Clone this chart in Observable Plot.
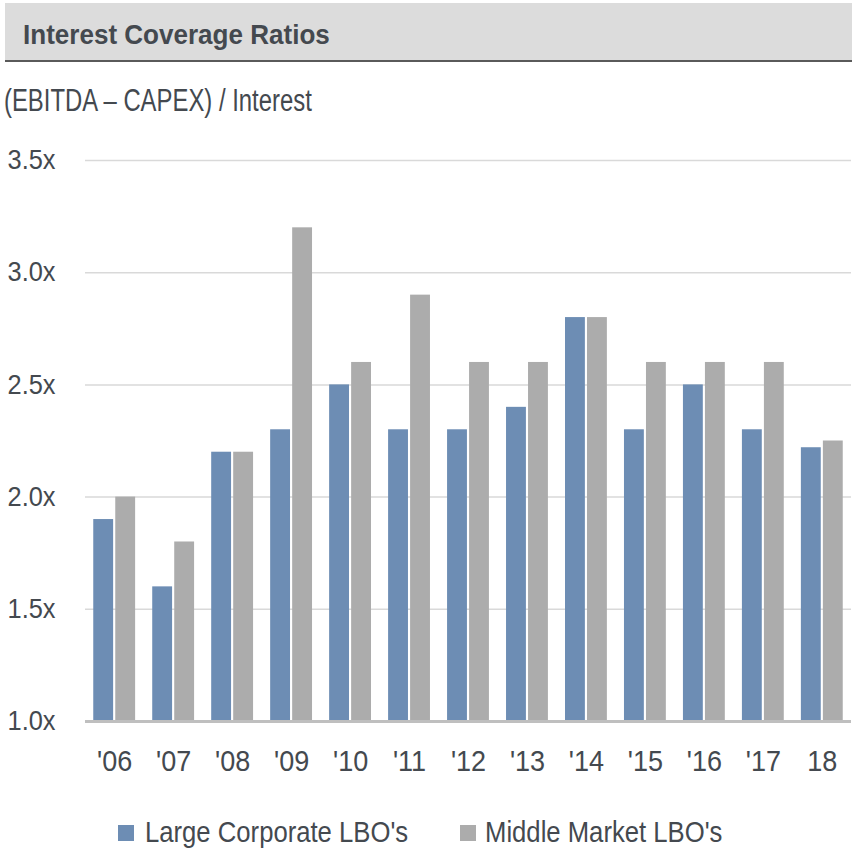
<!DOCTYPE html>
<html><head><meta charset="utf-8">
<script src="https://cdn.jsdelivr.net/npm/d3@7"></script>
<script src="https://cdn.jsdelivr.net/npm/@observablehq/plot@0.6"></script>
<style>
body{margin:0;background:#fff;font-family:"Liberation Sans",Arial,sans-serif;color:#44494f;}
#wrap{position:relative;width:852px;height:849px;overflow:hidden}
#head{position:absolute;left:5px;top:3px;width:847px;height:57px;background:#dcdcdc;border-bottom:2.5px solid #5a5a5a;}
.sq{position:absolute;white-space:nowrap;transform-origin:0 0;}
#title{left:23px;top:21px;font-weight:bold;font-size:28px;line-height:28px;transform:scaleX(0.93)}
#sub{left:4px;top:84.5px;font-size:31px;line-height:31px;transform:scaleX(0.77)}
#chart{position:absolute;left:0;top:140px}
.sw{position:absolute;width:16px;height:16px;top:825px}
.lt{top:817.5px;font-size:29px;line-height:29px;transform:scaleX(0.885)}
</style></head>
<body><div id="wrap">
<div id="head"></div>
<div id="title" class="sq">Interest Coverage Ratios</div>
<div id="sub" class="sq">(EBITDA – CAPEX) / Interest</div>
<div id="chart"></div>
<div id="legend"></div>
</div>
<script>
const years = ["'06","'07","'08","'09","'10","'11","'12","'13","'14","'15","'16","'17","18"];
const large = [1.9,1.6,2.2,2.3,2.5,2.3,2.3,2.4,2.8,2.3,2.5,2.3,2.22];
const middle = [2.0,1.8,2.2,3.2,2.6,2.9,2.6,2.6,2.8,2.6,2.6,2.6,2.25];
const yTicks = [1,1.5,2,2.5,3,3.5];
const seriesNames = ["Large Corporate LBO's","Middle Market LBO's"];
const colors = ["#6d8db4","#acacac"];

const rows = years.map((y,i)=>({year:y, large:large[i], middle:middle[i]}));
const chart = Plot.plot({
  width:852, height:660, marginLeft:85, marginRight:1, marginTop:20, marginBottom:79,
  style:{fontFamily:'"Liberation Sans",Arial,sans-serif', color:"#44494f", background:"transparent", overflow:"visible"},
  x:{domain:years, paddingInner:0.29, paddingOuter:0.14, round:false, label:null},
  y:{domain:[1,3.5], label:null},
  marks:[
    Plot.ruleY(yTicks.slice(1), {stroke:"#d9d9d9", strokeWidth:1.5}),
    Plot.barY(rows,{x:"year", y1:1, y2:"large", fill:colors[0], insetRight:22}),
    Plot.barY(rows,{x:"year", y1:1, y2:"middle", fill:colors[1], insetLeft:22}),
    Plot.ruleY([1], {stroke:"#bfbfbf", strokeWidth:3}),
    Plot.axisY({ticks:yTicks, tickFormat:d=>d.toFixed(1)+"x", tickSize:0, tickPadding:30, fontSize:27, fill:"#44494f"}),
    Plot.axisX({tickSize:0, tickPadding:28, fontSize:30, fill:"#44494f"})
  ]
});
document.getElementById("chart").appendChild(chart);

function squeeze(sel, s, anchor){
  chart.querySelectorAll(sel).forEach(t=>{
    const b = t.getBBox();
    const ax = anchor==="end" ? b.x + b.width : b.x + b.width/2;
    t.setAttribute("transform", (t.getAttribute("transform")||"") + ` translate(${ax},0) scale(${s},1) translate(${-ax},0)`);
  });
}
squeeze('g[aria-label="x-axis tick label"] text', 0.9, "middle");
squeeze('g[aria-label="y-axis tick label"] text', 0.94, "end");

const lg = document.getElementById("legend");
const swX = [118, 460], txX = [145, 485];
seriesNames.forEach((n,i)=>{
  const sw = document.createElement("div"); sw.className="sw";
  sw.style.left = swX[i]+"px"; sw.style.background = colors[i];
  const t = document.createElement("div"); t.className="sq lt";
  t.style.left = txX[i]+"px"; t.textContent = n;
  lg.appendChild(sw); lg.appendChild(t);
});
</script>
</body></html>
